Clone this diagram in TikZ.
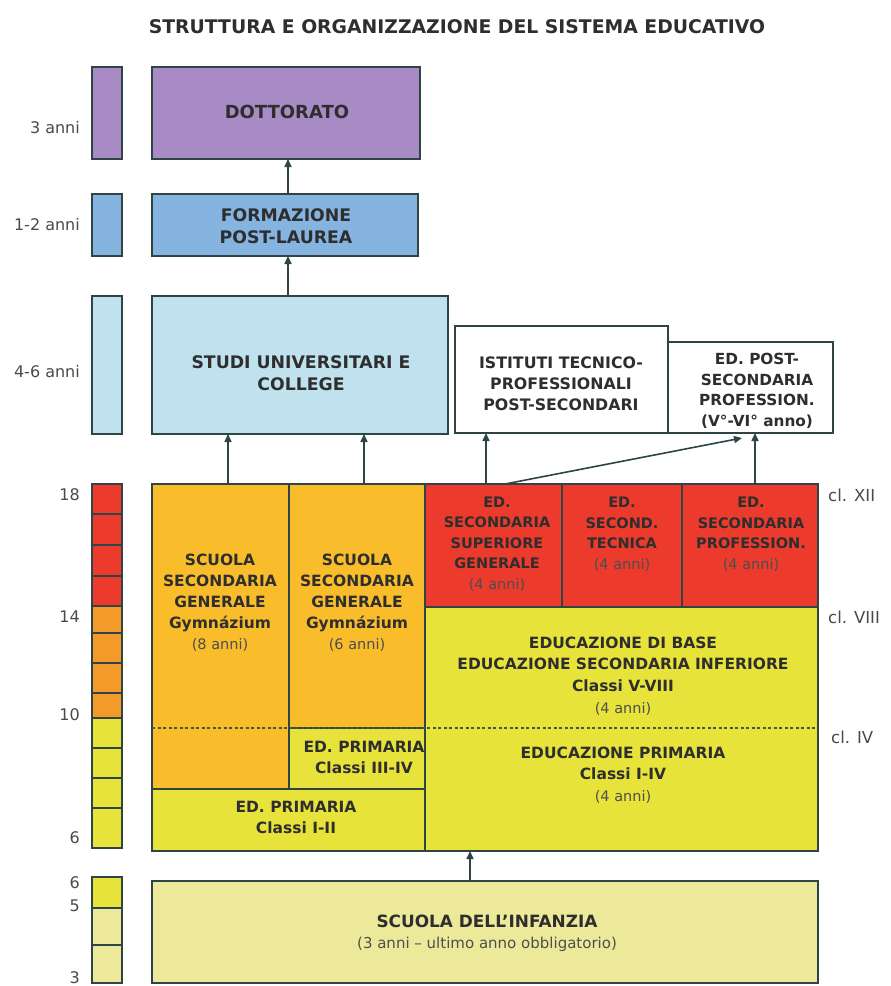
\documentclass[tikz,border=0pt]{standalone}
\usepackage{fontspec}
\setmainfont{DejaVu Sans}
\usetikzlibrary{arrows.meta}

\definecolor{bd}{HTML}{2F4545}
\definecolor{tc}{HTML}{2E2E2E}
\definecolor{subc}{HTML}{4E4E4E}
\definecolor{labc}{HTML}{4A4A4A}
\definecolor{purp}{HTML}{A88BC4}
\definecolor{blu}{HTML}{84B4DF}
\definecolor{lblu}{HTML}{C0E2EE}
\definecolor{gold}{HTML}{F9BD2B}
\definecolor{redd}{HTML}{EC3A2D}
\definecolor{orng}{HTML}{F49A2B}
\definecolor{yel}{HTML}{E8E33A}
\definecolor{lyel}{HTML}{EDE99B}
\definecolor{dashc}{HTML}{3F5B3F}

\newcommand\subt[1]{{\mdseries\color{subc}\fontsize{14.5}{21}\selectfont #1}}

\begin{document}
\begin{tikzpicture}[x=1pt,y=-1pt,
  box/.style={draw=bd, line width=1.6pt, inner sep=0pt, outer sep=0pt, anchor=north west},
  txt/.style={inner sep=0pt, align=center, text=tc, font=\fontsize{15.5}{21}\selectfont\bfseries},
  bigtxt/.style={txt, font=\fontsize{17.3}{22}\selectfont\bfseries},
  redtxt/.style={txt, font=\fontsize{14.5}{20.5}\selectfont\bfseries},
  lab/.style={inner sep=0pt, text=labc, font=\fontsize{16}{18}\selectfont, anchor=east},
  cls/.style={inner sep=0pt, text=labc, font=\fontsize{16.5}{18}\selectfont, anchor=west},
  arr/.style={draw=bd, line width=1.6pt, -{Triangle[length=8pt,width=7pt]}},
  dashline/.style={draw=dashc, line width=1.8pt, dash pattern=on 3pt off 2.5pt}]

\useasboundingbox (0,0) rectangle (891,986);
\fill[white] (0,0) rectangle (891,986);

% title
\node[inner sep=0pt, text=tc, font=\fontsize{18.8}{22}\selectfont\bfseries] (title) at (457,27)
  {STRUTTURA E ORGANIZZAZIONE DEL SISTEMA EDUCATIVO};

% higher education
\node[box, fill=purp, minimum width=30pt, minimum height=92pt] (barDott) at (92,67) {};
\node[box, fill=purp, minimum width=268pt, minimum height=92pt] (dott) at (152,67) {};
\node[box, fill=blu, minimum width=30pt, minimum height=62pt] (barForm) at (92,194) {};
\node[box, fill=blu, minimum width=266pt, minimum height=62pt] (form) at (152,194) {};
\node[box, fill=lblu, minimum width=30pt, minimum height=138pt] (barStudi) at (92,296) {};
\node[box, fill=lblu, minimum width=296pt, minimum height=138pt] (studi) at (152,296) {};
\node[box, fill=white, minimum width=213pt, minimum height=107pt] (ist) at (455,326) {};
\node[box, fill=white, minimum width=165pt, minimum height=91pt] (post) at (668,342) {};

\node[bigtxt, font=\fontsize{18}{22}\selectfont\bfseries] (tDott) at (287,112) {DOTTORATO};
\node[bigtxt] (tForm) at (286,226) {FORMAZIONE\\POST-LAUREA};
\node[bigtxt] (tStudi) at (301,373) {STUDI UNIVERSITARI E\\COLLEGE};
\node[txt, font=\fontsize{15.8}{21}\selectfont\bfseries] (tIst) at (561,384) {ISTITUTI TECNICO-\\PROFESSIONALI\\POST-SECONDARI};
\node[txt, font=\fontsize{15.3}{20.5}\selectfont\bfseries] (tPost) at (757,391) {ED. POST-\\SECONDARIA\\PROFESSION.\\(V°-VI° anno)};

% school blocks
\node[box, fill=gold, minimum width=137pt, minimum height=305pt] (gym8) at (152,484) {};
\node[box, fill=gold, minimum width=136pt, minimum height=244pt] (gym6) at (289,484) {};
\node[box, fill=yel, minimum width=136pt, minimum height=61pt] (prim34) at (289,728) {};
\node[box, fill=yel, minimum width=273pt, minimum height=62pt] (prim12) at (152,789) {};
\node[box, fill=redd, minimum width=137pt, minimum height=123pt] (red1) at (425,484) {};
\node[box, fill=redd, minimum width=120pt, minimum height=123pt] (red2) at (562,484) {};
\node[box, fill=redd, minimum width=136pt, minimum height=123pt] (red3) at (682,484) {};
\node[box, fill=yel, minimum width=393pt, minimum height=244pt] (base) at (425,607) {};
\node[box, fill=lyel, minimum width=666pt, minimum height=102pt] (inf) at (152,881) {};

\draw[dashline] (prim34.north -| gym8.west) -- (prim34.north -| base.east);

\node[txt] (tGym8) at (220,603) {SCUOLA\\SECONDARIA\\GENERALE\\Gymnázium\\\subt{(8 anni)}};
\node[txt] (tGym6) at (357,603) {SCUOLA\\SECONDARIA\\GENERALE\\Gymnázium\\\subt{(6 anni)}};
\node[txt] (tPrim34) at (364,757) {ED. PRIMARIA\\Classi III-IV};
\node[txt] (tPrim12) at (296,817) {ED. PRIMARIA\\Classi I-II};
\node[redtxt] (tRed1) at (497,544) {ED.\\SECONDARIA\\SUPERIORE\\GENERALE\\\subt{(4 anni)}};
\node[redtxt] (tRed2) at (622,534) {ED.\\SECOND.\\TECNICA\\\subt{(4 anni)}};
\node[redtxt] (tRed3) at (751,534) {ED.\\SECONDARIA\\PROFESSION.\\\subt{(4 anni)}};
\node[txt, font=\fontsize{15.5}{21.7}\selectfont\bfseries] (tBase) at (623,676)
  {EDUCAZIONE DI BASE\\EDUCAZIONE SECONDARIA INFERIORE\\Classi V-VIII\\\subt{(4 anni)}};
\node[txt, font=\fontsize{15.5}{21.7}\selectfont\bfseries] (tPrim) at (623,775)
  {EDUCAZIONE PRIMARIA\\Classi I-IV\\\subt{(4 anni)}};
\node[txt, font=\fontsize{16.9}{21}\selectfont\bfseries] (tInf) at (487,933)
  {SCUOLA DELL'INFANZIA\\{\mdseries\color{subc}\fontsize{15}{21}\selectfont (3 anni -- ultimo anno obbligatorio)}};

% age scale
\foreach \i/\ya/\h/\c in {1/484/30/redd, 2/514/31/redd, 3/545/31/redd, 4/576/30/redd,
    5/606/27/orng, 6/633/30/orng, 7/663/30/orng, 8/693/25/orng,
    9/718/30/yel, 10/748/30/yel, 11/778/30/yel, 12/808/40/yel,
    13/877/31/yel, 14/908/37/lyel, 15/945/38/lyel}
  \node[box, fill=\c, minimum width=30pt, minimum height=\h pt] (cell\i) at (92,\ya) {};

\node[lab] (l3a) at (80,128) {3 anni};
\node[lab] (l12a) at (80,225) {1-2 anni};
\node[lab] (l46a) at (80,372) {4-6 anni};
\node[lab] (age18) at (80,495) {18};
\node[lab] (age14) at (80,617) {14};
\node[lab] (age10) at (80,715) {10};
\node[lab] (age6) at (80,838) {6};
\node[lab] (age6b) at (80,883) {6};
\node[lab] (age5) at (80,906) {5};
\node[lab] (age3) at (80,978) {3};

\node[cls] (clXII) at (828,495) {cl. XII};
\node[cls] (clVIII) at (828,617) {cl. VIII};
\node[cls] (clIV) at (831,737) {cl. IV};

% connectors
\coordinate (a7) at (288,296);
\coordinate (a8) at (288,194);
\draw[arr] (a7) -- (a7 |- form.south);
\draw[arr] (a8) -- (a8 |- dott.south);
\coordinate (a1) at (228,484);
\coordinate (a2) at (364,484);
\coordinate (a3) at (486,484);
\coordinate (a4) at (755,484);
\coordinate (a5) at (505,484);
\coordinate (a5e) at (742,438);
\coordinate (a6) at (470,881);
\draw[arr] (a1) -- (a1 |- studi.south);
\draw[arr] (a2) -- (a2 |- studi.south);
\draw[arr] (a3) -- (a3 |- ist.south);
\draw[arr] (a4) -- (a4 |- post.south);
\draw[arr] (a5) -- (a5e);
\draw[arr] (a6) -- (a6 |- base.south);

\end{tikzpicture}
\end{document}
